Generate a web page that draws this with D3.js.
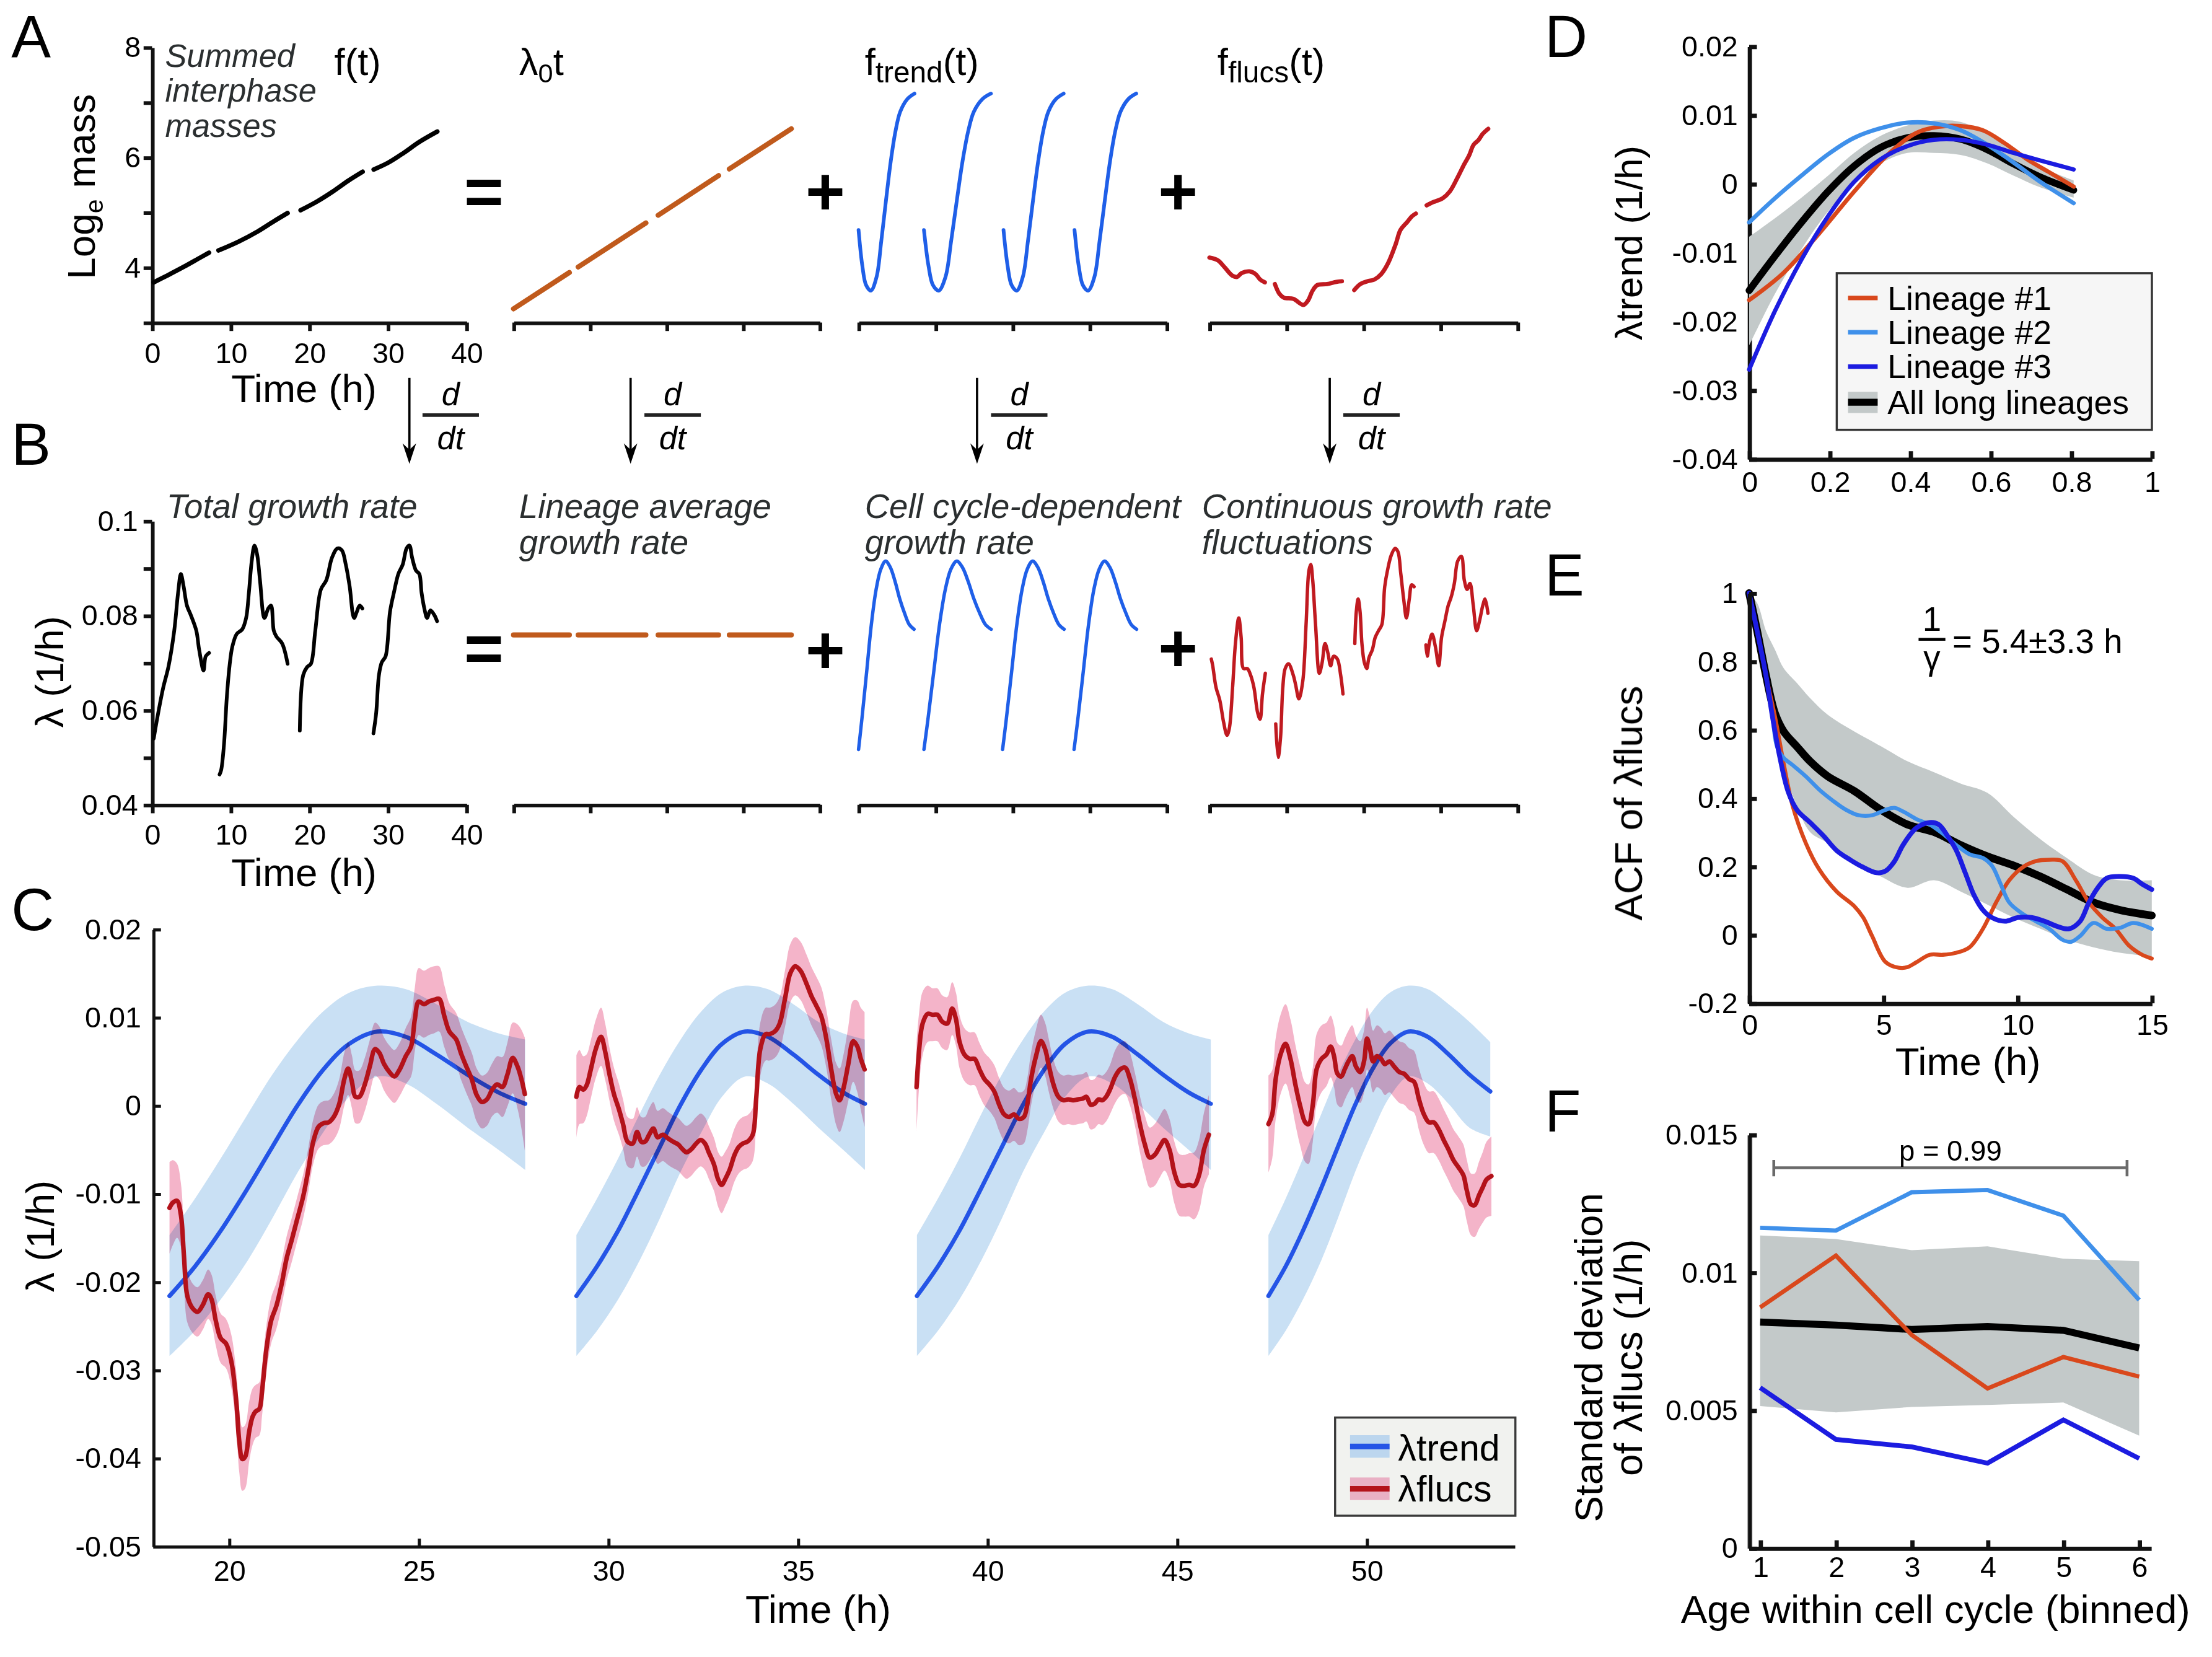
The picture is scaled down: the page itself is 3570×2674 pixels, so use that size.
<!DOCTYPE html>
<html>
<head>
<meta charset="utf-8">
<script src="https://cdn.jsdelivr.net/npm/d3@7"></script>
<style>
  body { margin: 0; background: #fff; }
  svg { display: block; }
</style>
</head>
<body>
<svg id="fig" width="3570" height="2674" viewBox="0 0 1568 1174"></svg>
<script>
// ---------------- data: panels A / B ----------------
const abTicks = [0, 10, 20, 30, 40];
const massTicks = [3, 4, 5, 6, 7, 8];
const massTickLabels = ['', '4', '', '6', '', '8'];
const rateTicks = [0.04, 0.05, 0.06, 0.07, 0.08, 0.09, 0.1];
const rateTickLabels = ['0.04', '', '0.06', '', '0.08', '', '0.1'];

const massSegs = [
  [[0.2,3.73],[2,3.86],[4,4.01],[6,4.17],[7.25,4.27]],
  [[8.45,4.31],[11,4.47],[13.5,4.66],[15.5,4.84],[17.25,4.99]],
  [[18.9,5.04],[21,5.2],[23,5.38],[25,5.58],[26.8,5.74]],
  [[28.2,5.78],[30,5.9],[32,6.08],[34,6.28],[36.3,6.47]]
];
const lambda0A = [
  [[0,3.25],[7.3,3.91]], [[8.45,4.01],[17.3,4.81]],
  [[18.9,4.95],[26.8,5.67]], [[28.2,5.79],[36.3,6.52]]
];
const trendA = [
  [[0,4.68],[0.49,4.03],[0.98,3.68],[1.60,3.58],[2.34,3.83],[2.95,4.48],[3.57,5.23],[4.18,5.93],[4.80,6.48],[5.41,6.83],[6.33,7.06],[7.26,7.16]],
  [[8.49,4.68],[9.08,4.03],[9.66,3.68],[10.40,3.58],[11.29,3.83],[12.02,4.48],[12.77,5.23],[13.50,5.93],[14.24,6.48],[14.97,6.83],[16.08,7.06],[17.19,7.16]],
  [[18.82,4.68],[19.35,4.03],[19.87,3.68],[20.54,3.58],[21.33,3.83],[21.99,4.48],[22.66,5.23],[23.32,5.93],[23.98,6.48],[24.64,6.83],[25.63,7.06],[26.63,7.16]],
  [[28.04,4.68],[28.58,4.03],[29.12,3.68],[29.80,3.58],[30.62,3.83],[31.29,4.48],[31.98,5.23],[32.65,5.93],[33.33,6.48],[34.01,6.83],[35.02,7.06],[36.05,7.16]]
];
const flucsA = [
  [[0,4.18],[1.1,4.13],[2.0,4.00],[3.0,3.85],[3.6,3.83],[4.2,3.90],[5.2,3.93],[6.0,3.88],[6.6,3.78],[7.2,3.73]],
  [[8.5,3.70],[9.1,3.52],[9.7,3.45],[10.9,3.43],[12.2,3.32],[12.8,3.40],[13.4,3.58],[14.0,3.68],[15.3,3.70],[16.5,3.74],[17.2,3.75]],
  [[18.8,3.59],[19.6,3.70],[20.5,3.75],[21.4,3.78],[22.3,3.88],[23.2,4.08],[24.2,4.43],[24.8,4.68],[25.7,4.83],[26.3,4.93],[26.8,4.98]],
  [[28.2,5.13],[29.1,5.19],[30.3,5.26],[31.2,5.38],[32.2,5.63],[33.1,5.88],[33.7,6.03],[34.3,6.23],[34.9,6.31],[35.5,6.43],[36.2,6.52]]
];
const totalB = [
  [[0.21,0.0540],[0.70,0.0587],[1.41,0.0647],[2.11,0.0694],[2.82,0.0768],[3.31,0.0848],[3.66,0.0888],[4.01,0.0862],[4.44,0.0821],[4.93,0.0801],[5.63,0.0768],[5.99,0.0728],[6.55,0.0684],[6.83,0.0714],[7.25,0.0721]],
  [[8.59,0.0464],[8.80,0.0474],[9.15,0.0527],[9.51,0.0627],[9.86,0.0694],[10.21,0.0734],[10.77,0.0761],[11.48,0.0771],[11.97,0.0795],[12.32,0.0848],[12.68,0.0915],[13.03,0.0948],[13.38,0.0928],[13.73,0.0875],[14.30,0.0795],[14.79,0.0815],[15.14,0.0821],[15.49,0.0768],[15.85,0.0755],[16.55,0.0741],[17.25,0.0698]],
  [[18.80,0.0557],[19.23,0.0674],[19.72,0.0691],[20.21,0.0698],[20.77,0.0768],[21.48,0.0855],[22.18,0.0875],[22.89,0.0922],[23.59,0.0942],[24.15,0.0938],[24.65,0.0908],[25.14,0.0862],[25.70,0.0795],[26.06,0.0808],[26.41,0.0821],[26.76,0.0815]],
  [[28.17,0.0551],[28.52,0.0594],[28.87,0.0674],[29.23,0.0701],[29.72,0.0714],[30.28,0.0808],[30.77,0.0848],[31.34,0.0888],[31.90,0.0908],[32.39,0.0942],[32.75,0.0948],[33.10,0.0922],[33.59,0.0895],[34.01,0.0888],[34.30,0.0848],[34.65,0.0815],[35.00,0.0795],[35.42,0.0811],[35.92,0.0801],[36.27,0.0788]]
];
const lambda0B = [
  [[0,0.0759],[7.3,0.0759]], [[8.45,0.0759],[17.3,0.0759]],
  [[18.9,0.0759],[26.8,0.0759]], [[28.2,0.0759],[36.3,0.0759]]
];
const trendB = [
  [[0,0.0517],[0.43,0.0581],[1.05,0.0681],[1.66,0.0781],[2.28,0.0855],[2.89,0.0898],[3.51,0.0915],[4.12,0.0902],[4.74,0.0872],[5.35,0.0835],[5.97,0.0805],[6.58,0.0781],[7.20,0.0771]],
  [[8.49,0.0517],[9.01,0.0581],[9.76,0.0681],[10.51,0.0781],[11.26,0.0855],[11.99,0.0898],[12.75,0.0915],[13.48,0.0902],[14.23,0.0872],[14.98,0.0835],[15.73,0.0805],[16.47,0.0781],[17.22,0.0771]],
  [[18.70,0.0517],[19.18,0.0581],[19.87,0.0681],[20.55,0.0781],[21.23,0.0855],[21.90,0.0898],[22.60,0.0915],[23.27,0.0902],[23.96,0.0872],[24.64,0.0835],[25.32,0.0805],[26.00,0.0781],[26.69,0.0771]],
  [[27.98,0.0517],[28.47,0.0581],[29.17,0.0681],[29.86,0.0781],[30.55,0.0855],[31.24,0.0898],[31.94,0.0915],[32.62,0.0902],[33.32,0.0872],[34.01,0.0835],[34.71,0.0805],[35.40,0.0781],[36.10,0.0771]]
];
const flucsB = [
  [[0.25,0.0708],[0.43,0.0694],[0.86,0.0648],[1.35,0.0621],[1.85,0.0574],[2.28,0.0547],[2.58,0.0561],[3.01,0.0648],[3.38,0.0741],[3.81,0.0795],[4.12,0.0754],[4.43,0.0688],[4.92,0.0688],[5.35,0.0674],[5.78,0.0648],[6.27,0.0594],[6.58,0.0581],[6.89,0.0634],[7.26,0.0678]],
  [[8.61,0.0571],[8.92,0.0500],[9.23,0.0541],[9.53,0.0648],[9.84,0.0688],[10.27,0.0698],[10.89,0.0674],[11.19,0.0654],[11.62,0.0624],[12.12,0.0661],[12.55,0.0781],[12.92,0.0895],[13.16,0.0908],[13.41,0.0875],[13.78,0.0781],[14.27,0.0678],[14.64,0.0701],[15.01,0.0741],[15.38,0.0721],[15.74,0.0694],[16.11,0.0714],[16.61,0.0708],[17.04,0.0674],[17.34,0.0634]],
  [[18.88,0.0741],[19.07,0.0808],[19.31,0.0835],[19.56,0.0808],[19.80,0.0741],[20.11,0.0701],[20.42,0.0688],[20.72,0.0711],[21.16,0.0728],[21.53,0.0754],[21.96,0.0768],[22.39,0.0781],[22.76,0.0861],[23.19,0.0901],[23.62,0.0928],[24.11,0.0942],[24.48,0.0935],[24.85,0.0888],[25.22,0.0835],[25.58,0.0795],[25.95,0.0835],[26.26,0.0865],[26.57,0.0861]],
  [[28.11,0.0738],[28.29,0.0714],[28.54,0.0741],[28.91,0.0761],[29.34,0.0734],[29.77,0.0694],[30.14,0.0754],[30.57,0.0788],[31.00,0.0821],[31.37,0.0838],[31.80,0.0868],[32.23,0.0915],[32.72,0.0925],[33.09,0.0875],[33.46,0.0855],[33.83,0.0868],[34.26,0.0821],[34.69,0.0768],[35.06,0.0788],[35.49,0.0821],[35.79,0.0835],[36.16,0.0805]]
];

// ---------------- data: panel C ----------------
const cTicksX = [20, 25, 30, 35, 40, 45, 50];
const cTicksY = [-0.05, -0.04, -0.03, -0.02, -0.01, 0, 0.01, 0.02];
const cTickLabelsY = ['-0.05', '-0.04', '-0.03', '-0.02', '-0.01', '0', '0.01', '0.02'];
// rows: [time, trend, lower, upper]
const trendC1 = [[18.43,-0.0216,-0.0284,-0.0147],[19.11,-0.0182,-0.0255,-0.0105],[19.78,-0.0142,-0.0220,-0.0060],[20.46,-0.0096,-0.0178,-0.0012],[21.14,-0.0047,-0.0128,0.0035],[21.82,0.0001,-0.0075,0.0075],[22.49,0.0041,-0.0030,0.0107],[23.17,0.0070,0.0010,0.0128],[23.92,0.0084,0.0033,0.0136],[24.66,0.0078,0.0025,0.0132],[25.47,0.0058,0.0002,0.0115],[26.29,0.0035,-0.0025,0.0095],[27.10,0.0015,-0.0050,0.0082],[27.81,0.0002,-0.0073,0.0075]];
const trendC2 = [[29.16,-0.0216,-0.0284,-0.0147],[29.71,-0.0182,-0.0255,-0.0105],[30.26,-0.0142,-0.0220,-0.0060],[30.80,-0.0096,-0.0178,-0.0012],[31.36,-0.0047,-0.0128,0.0035],[31.91,0.0001,-0.0075,0.0075],[32.46,0.0041,-0.0030,0.0107],[33.00,0.0070,0.0010,0.0128],[33.61,0.0084,0.0033,0.0136],[34.21,0.0078,0.0025,0.0132],[34.88,0.0058,0.0002,0.0115],[35.54,0.0035,-0.0025,0.0095],[36.19,0.0015,-0.0050,0.0082],[36.77,0.0002,-0.0073,0.0075]];
const trendC3 = [[38.14,-0.0216,-0.0284,-0.0147],[38.70,-0.0182,-0.0255,-0.0105],[39.26,-0.0142,-0.0220,-0.0060],[39.81,-0.0096,-0.0178,-0.0012],[40.38,-0.0047,-0.0128,0.0035],[40.94,0.0001,-0.0075,0.0075],[41.50,0.0041,-0.0030,0.0107],[42.05,0.0070,0.0010,0.0128],[42.67,0.0084,0.0033,0.0136],[43.29,0.0078,0.0025,0.0132],[43.96,0.0058,0.0002,0.0115],[44.63,0.0035,-0.0025,0.0095],[45.30,0.0015,-0.0050,0.0082],[45.89,0.0002,-0.0073,0.0075]];
const trendC4 = [[47.41,-0.0216,-0.0284,-0.0147],[47.87,-0.0182,-0.0255,-0.0105],[48.32,-0.0142,-0.0220,-0.0060],[48.78,-0.0096,-0.0178,-0.0012],[49.24,-0.0047,-0.0128,0.0035],[49.70,0.0001,-0.0075,0.0075],[50.15,0.0041,-0.0030,0.0107],[50.61,0.0070,0.0010,0.0128],[51.11,0.0084,0.0033,0.0136],[51.61,0.0078,0.0025,0.0132],[52.16,0.0058,0.0002,0.0115],[52.71,0.0035,-0.0025,0.0095],[53.26,0.0016,-0.0035,0.0072]];
// rows: [time, flucs, half width of band]
const flucsC1 = [[18.43,-0.0116,0.0052],[18.52,-0.0110,0.0048],[18.63,-0.0108,0.0042],[18.73,-0.0124,0.0036],[18.81,-0.0170,0.0032],[18.90,-0.0216,0.0030],[19.04,-0.0230,0.0028],[19.17,-0.0234,0.0028],[19.31,-0.0226,0.0028],[19.45,-0.0214,0.0028],[19.54,-0.0220,0.0028],[19.65,-0.0244,0.0028],[19.78,-0.0264,0.0028],[19.92,-0.0270,0.0028],[20.06,-0.0290,0.0030],[20.19,-0.0335,0.0033],[20.27,-0.0381,0.0035],[20.35,-0.0401,0.0036],[20.43,-0.0398,0.0036],[20.53,-0.0370,0.0034],[20.62,-0.0353,0.0032],[20.70,-0.0347,0.0030],[20.80,-0.0344,0.0030],[20.87,-0.0324,0.0028],[20.98,-0.0278,0.0027],[21.11,-0.0244,0.0026],[21.25,-0.0227,0.0026],[21.38,-0.0204,0.0025],[21.52,-0.0173,0.0025],[21.65,-0.0153,0.0025],[21.79,-0.0130,0.0025],[21.95,-0.0104,0.0025],[22.09,-0.0073,0.0025],[22.22,-0.0041,0.0025],[22.36,-0.0024,0.0025],[22.49,-0.0020,0.0025],[22.63,-0.0019,0.0025],[22.76,-0.0013,0.0026],[22.90,0.0001,0.0028],[23.04,0.0030,0.0030],[23.14,0.0042,0.0030],[23.24,0.0027,0.0030],[23.33,0.0010,0.0030],[23.44,0.0010,0.0030],[23.58,0.0024,0.0030],[23.71,0.0044,0.0030],[23.85,0.0064,0.0030],[23.96,0.0060,0.0030],[24.09,0.0047,0.0030],[24.23,0.0038,0.0030],[24.36,0.0033,0.0030],[24.50,0.0041,0.0030],[24.66,0.0056,0.0032],[24.80,0.0067,0.0034],[24.90,0.0098,0.0036],[25.00,0.0118,0.0038],[25.14,0.0115,0.0038],[25.27,0.0118,0.0038],[25.41,0.0120,0.0038],[25.54,0.0121,0.0037],[25.68,0.0101,0.0035],[25.81,0.0084,0.0032],[25.99,0.0075,0.0030],[26.12,0.0059,0.0030],[26.26,0.0044,0.0030],[26.40,0.0030,0.0030],[26.53,0.0012,0.0030],[26.67,0.0004,0.0030],[26.80,0.0007,0.0030],[26.94,0.0018,0.0030],[27.07,0.0024,0.0032],[27.21,0.0021,0.0034],[27.34,0.0035,0.0036],[27.48,0.0054,0.0040],[27.61,0.0044,0.0048],[27.71,0.0030,0.0056],[27.80,0.0013,0.0064]];
const flucsC2 = [[29.16,0.0010,0.0047],[29.24,0.0021,0.0042],[29.34,0.0018,0.0038],[29.43,0.0023,0.0035],[29.54,0.0041,0.0033],[29.67,0.0064,0.0033],[29.81,0.0078,0.0033],[29.92,0.0061,0.0032],[30.03,0.0036,0.0030],[30.15,0.0013,0.0030],[30.28,-0.0004,0.0029],[30.39,-0.0021,0.0028],[30.51,-0.0041,0.0028],[30.65,-0.0043,0.0028],[30.76,-0.0030,0.0028],[30.87,-0.0041,0.0028],[30.97,-0.0041,0.0028],[31.08,-0.0033,0.0030],[31.19,-0.0026,0.0030],[31.30,-0.0036,0.0030],[31.44,-0.0033,0.0030],[31.57,-0.0037,0.0030],[31.71,-0.0041,0.0030],[31.84,-0.0044,0.0030],[31.95,-0.0049,0.0030],[32.06,-0.0053,0.0030],[32.18,-0.0050,0.0030],[32.32,-0.0043,0.0030],[32.44,-0.0039,0.0030],[32.55,-0.0043,0.0030],[32.65,-0.0053,0.0030],[32.79,-0.0067,0.0030],[32.90,-0.0084,0.0031],[32.99,-0.0090,0.0032],[33.09,-0.0083,0.0031],[33.20,-0.0073,0.0030],[33.33,-0.0056,0.0030],[33.44,-0.0047,0.0030],[33.55,-0.0043,0.0030],[33.67,-0.0041,0.0030],[33.81,-0.0033,0.0030],[33.90,0.0007,0.0030],[34.01,0.0064,0.0030],[34.15,0.0081,0.0030],[34.25,0.0081,0.0030],[34.39,0.0084,0.0030],[34.52,0.0093,0.0030],[34.66,0.0121,0.0032],[34.80,0.0150,0.0033],[34.93,0.0158,0.0033],[35.07,0.0153,0.0033],[35.23,0.0138,0.0033],[35.36,0.0124,0.0033],[35.49,0.0113,0.0033],[35.62,0.0101,0.0033],[35.75,0.0076,0.0033],[35.88,0.0041,0.0034],[36.01,0.0013,0.0035],[36.10,0.0006,0.0036],[36.20,0.0019,0.0038],[36.33,0.0047,0.0042],[36.46,0.0073,0.0046],[36.57,0.0067,0.0052],[36.66,0.0053,0.0058],[36.76,0.0041,0.0065]];
const flucsC3 = [[38.13,0.0021,0.0050],[38.20,0.0064,0.0042],[38.29,0.0093,0.0036],[38.42,0.0104,0.0032],[38.55,0.0103,0.0030],[38.68,0.0103,0.0030],[38.81,0.0095,0.0030],[38.94,0.0093,0.0030],[39.07,0.0110,0.0030],[39.17,0.0098,0.0030],[39.26,0.0073,0.0030],[39.39,0.0058,0.0030],[39.53,0.0053,0.0030],[39.66,0.0053,0.0030],[39.79,0.0041,0.0030],[39.92,0.0030,0.0030],[40.05,0.0024,0.0030],[40.18,0.0016,0.0030],[40.31,0.0001,0.0030],[40.44,-0.0010,0.0030],[40.57,-0.0013,0.0030],[40.70,-0.0010,0.0030],[40.83,-0.0015,0.0030],[40.96,-0.0013,0.0030],[41.05,0.0001,0.0030],[41.15,0.0030,0.0030],[41.28,0.0056,0.0030],[41.41,0.0073,0.0030],[41.52,0.0064,0.0030],[41.61,0.0047,0.0030],[41.74,0.0024,0.0028],[41.87,0.0010,0.0028],[42.00,0.0006,0.0028],[42.13,0.0007,0.0028],[42.26,0.0006,0.0028],[42.39,0.0007,0.0028],[42.52,0.0008,0.0028],[42.61,0.0010,0.0028],[42.72,0.0001,0.0028],[42.82,0.0002,0.0028],[42.93,0.0007,0.0028],[43.03,0.0006,0.0028],[43.13,0.0010,0.0028],[43.24,0.0019,0.0028],[43.37,0.0033,0.0030],[43.50,0.0041,0.0030],[43.63,0.0043,0.0030],[43.76,0.0030,0.0030],[43.89,0.0007,0.0030],[44.02,-0.0021,0.0032],[44.15,-0.0044,0.0033],[44.28,-0.0059,0.0034],[44.41,-0.0056,0.0035],[44.54,-0.0047,0.0035],[44.67,-0.0039,0.0035],[44.80,-0.0050,0.0035],[44.93,-0.0076,0.0035],[45.06,-0.0090,0.0035],[45.19,-0.0091,0.0035],[45.32,-0.0090,0.0036],[45.45,-0.0091,0.0038],[45.58,-0.0079,0.0040],[45.71,-0.0050,0.0042],[45.84,-0.0033,0.0045]];
const flucsC4 = [[47.41,-0.0021,0.0055],[47.51,-0.0010,0.0050],[47.60,0.0030,0.0046],[47.73,0.0058,0.0045],[47.86,0.0070,0.0045],[47.99,0.0053,0.0045],[48.12,0.0024,0.0045],[48.25,-0.0001,0.0045],[48.38,-0.0019,0.0045],[48.47,-0.0021,0.0045],[48.58,0.0001,0.0042],[48.68,0.0041,0.0040],[48.81,0.0053,0.0038],[48.94,0.0058,0.0036],[49.05,0.0067,0.0035],[49.14,0.0056,0.0035],[49.23,0.0036,0.0035],[49.33,0.0033,0.0035],[49.42,0.0041,0.0035],[49.52,0.0050,0.0035],[49.62,0.0056,0.0035],[49.72,0.0044,0.0035],[49.83,0.0038,0.0035],[49.93,0.0050,0.0035],[50.01,0.0076,0.0035],[50.09,0.0064,0.0035],[50.17,0.0050,0.0035],[50.27,0.0056,0.0035],[50.38,0.0053,0.0035],[50.48,0.0047,0.0035],[50.60,0.0050,0.0035],[50.73,0.0044,0.0035],[50.86,0.0038,0.0035],[50.99,0.0036,0.0035],[51.12,0.0030,0.0035],[51.25,0.0027,0.0035],[51.38,0.0007,0.0035],[51.51,-0.0010,0.0035],[51.64,-0.0019,0.0035],[51.77,-0.0019,0.0035],[51.90,-0.0027,0.0035],[52.03,-0.0039,0.0035],[52.16,-0.0050,0.0035],[52.29,-0.0062,0.0035],[52.42,-0.0070,0.0035],[52.55,-0.0079,0.0035],[52.64,-0.0096,0.0035],[52.75,-0.0112,0.0035],[52.85,-0.0113,0.0036],[52.96,-0.0102,0.0038],[53.06,-0.0093,0.0040],[53.16,-0.0084,0.0043],[53.29,-0.0080,0.0045]];

// ---------------- data: panel D ----------------
const dTicksX = [0, 0.2, 0.4, 0.6, 0.8, 1];
const dTickLabelsX = ['0', '0.2', '0.4', '0.6', '0.8', '1'];
const dTicksY = [-0.04, -0.03, -0.02, -0.01, 0, 0.01, 0.02];
const dTickLabelsY = ['-0.04', '-0.03', '-0.02', '-0.01', '0', '0.01', '0.02'];
const lineageNames = ['Lineage #1', 'Lineage #2', 'Lineage #3', 'All long lineages'];
const lin1D = [[0,-0.0169],[0.086,-0.0129],[0.174,-0.0072],[0.261,-0.0011],[0.349,0.0045],[0.415,0.0074],[0.470,0.0083],[0.525,0.0084],[0.580,0.0078],[0.635,0.0059],[0.690,0.0036],[0.745,0.0017],[0.806,-0.0004]];
const lin2D = [[0,-0.0056],[0.064,-0.0021],[0.130,0.0012],[0.196,0.0043],[0.261,0.0067],[0.327,0.0081],[0.393,0.0089],[0.459,0.0088],[0.525,0.0078],[0.591,0.0057],[0.657,0.0031],[0.723,0.0003],[0.806,-0.0028]];
const lin3D = [[0,-0.0270],[0.064,-0.0185],[0.130,-0.0110],[0.196,-0.0047],[0.261,0.0003],[0.327,0.0036],[0.393,0.0055],[0.459,0.0064],[0.525,0.0064],[0.591,0.0057],[0.657,0.0045],[0.723,0.0034],[0.806,0.0021]];
const allD = [[0,-0.0155],[0.064,-0.0105],[0.130,-0.0056],[0.196,-0.0011],[0.261,0.0026],[0.327,0.0053],[0.393,0.0067],[0.459,0.0070],[0.525,0.0065],[0.591,0.0050],[0.657,0.0029],[0.723,0.0010],[0.806,-0.0009]];
const bandD = [[0,-0.0235,-0.0077],[0.064,-0.0160,-0.0050],[0.130,-0.0095,-0.0020],[0.196,-0.0040,0.0012],[0.261,0.0000,0.0045],[0.327,0.0030,0.0070],[0.393,0.0045,0.0085],[0.459,0.0045,0.0092],[0.525,0.0042,0.0090],[0.591,0.0030,0.0072],[0.657,0.0012,0.0048],[0.723,-0.0005,0.0025],[0.806,-0.0020,0.0005]];

// ---------------- data: panel E ----------------
const eTicksX = [0, 5, 10, 15];
const eTicksY = [-0.2, 0, 0.2, 0.4, 0.6, 0.8, 1];
const eTickLabelsY = ['-0.2', '0', '0.2', '0.4', '0.6', '0.8', '1'];
const allE = [[0,1.0],[0.30,0.889],[0.63,0.758],[0.96,0.649],[1.29,0.595],[1.78,0.551],[2.27,0.508],[2.93,0.464],[3.92,0.421],[4.91,0.366],[5.90,0.323],[6.89,0.301],[7.88,0.263],[8.87,0.230],[9.86,0.203],[10.85,0.171],[11.84,0.133],[12.83,0.095],[13.82,0.073],[15.0,0.057]];
const bandE = [[0,1.0,1.0],[0.30,0.932,0.971],[0.63,0.780,0.889],[0.96,0.639,0.835],[1.29,0.486,0.780],[1.78,0.378,0.737],[2.27,0.301,0.693],[2.93,0.269,0.644],[3.92,0.214,0.595],[4.91,0.171,0.552],[5.90,0.138,0.508],[6.89,0.160,0.476],[7.88,0.127,0.443],[8.87,0.089,0.416],[9.86,0.051,0.345],[10.85,0.018,0.280],[11.84,-0.014,0.225],[12.83,-0.036,0.176],[13.82,-0.052,0.160],[15.0,-0.063,0.160]];
const lin1E = [[0,1.0],[0.30,0.889],[0.63,0.758],[0.96,0.64],[1.29,0.50],[1.62,0.378],[2.11,0.269],[2.60,0.193],[3.26,0.127],[3.92,0.084],[4.25,0.051],[4.58,-0.003],[5.08,-0.079],[5.57,-0.096],[5.90,-0.094],[6.23,-0.080],[6.73,-0.058],[7.22,-0.058],[7.72,-0.052],[8.21,-0.036],[8.71,0.018],[9.20,0.095],[9.69,0.160],[10.19,0.198],[10.68,0.216],[11.18,0.220],[11.67,0.216],[12.17,0.160],[12.66,0.095],[13.16,0.051],[13.65,0.018],[14.15,-0.031],[14.64,-0.058],[15.0,-0.069]];
const lin2E = [[0,1.0],[0.30,0.889],[0.63,0.758],[0.87,0.638],[1.04,0.551],[1.29,0.518],[1.62,0.497],[2.11,0.464],[2.60,0.426],[3.10,0.394],[3.59,0.367],[4.09,0.350],[4.58,0.350],[5.08,0.366],[5.41,0.372],[5.74,0.361],[6.23,0.339],[6.73,0.323],[7.22,0.296],[7.72,0.263],[8.21,0.236],[8.71,0.225],[9.04,0.203],[9.37,0.149],[9.69,0.095],[10.19,0.062],[10.68,0.040],[11.18,0.018],[11.67,-0.014],[12.00,-0.020],[12.33,-0.003],[12.83,0.035],[13.32,0.018],[13.82,0.021],[14.31,0.035],[15.0,0.018]];
const lin3E = [[0,1.0],[0.30,0.889],[0.63,0.758],[0.87,0.638],[1.12,0.529],[1.45,0.420],[1.78,0.366],[2.27,0.329],[2.77,0.290],[3.26,0.247],[3.76,0.220],[4.25,0.198],[4.75,0.182],[5.08,0.187],[5.41,0.215],[5.74,0.264],[6.23,0.313],[6.73,0.329],[7.06,0.323],[7.39,0.290],[7.72,0.247],[8.05,0.182],[8.38,0.116],[8.71,0.073],[9.04,0.051],[9.53,0.040],[10.02,0.051],[10.52,0.051],[11.01,0.040],[11.51,0.024],[11.92,0.018],[12.33,0.040],[12.66,0.095],[12.99,0.138],[13.32,0.166],[13.82,0.171],[14.31,0.166],[14.64,0.149],[15.0,0.133]];

// ---------------- data: panel F ----------------
const fBins = [1, 2, 3, 4, 5, 6];
const fTicksY = [0, 0.005, 0.01, 0.015];
const fTickLabelsY = ['0', '0.005', '0.01', '0.015'];
const lin1F = [0.00873, 0.01061, 0.00773, 0.00579, 0.00693, 0.00622];
const lin2F = [0.01162, 0.01152, 0.01291, 0.01299, 0.01206, 0.00900];
const lin3F = [0.00582, 0.00394, 0.00367, 0.00308, 0.00465, 0.00325];
const allF = [0.00820, 0.00809, 0.00793, 0.00804, 0.00790, 0.00726];
const bandFLow = [0.00515, 0.00492, 0.00512, 0.00519, 0.00528, 0.00408];
const bandFHigh = [0.01134, 0.01121, 0.01081, 0.01095, 0.01050, 0.01041];
const pBracket = [1.18, 5.84];

// ---------------- drawing ----------------
const FONT = "'Liberation Sans', Arial, Helvetica, sans-serif";
const svg = d3.select('#fig').attr('font-family', FONT);
const INK = '#111';
const C_ORANGE_AB = '#c05a1c', C_BLUE_AB = '#1f5fe8', C_RED_AB = '#c01a20';
const C_L1 = '#d9481c', C_L2 = '#3f90ea', C_L3 = '#1c1ce0', C_GRAY = '#c3c9c9';

function txt(x, y, s, size, o = {}) {
  const t = svg.append('text').attr('x', x).attr('y', y).attr('font-size', size).text(s);
  if (o.anchor) t.attr('text-anchor', o.anchor);
  if (o.italic) t.attr('font-style', 'italic');
  if (o.weight) t.attr('font-weight', o.weight);
  t.attr('fill', o.fill || '#000');
  if (o.rotate) t.attr('transform', `rotate(-90,${x},${y})`);
  return t;
}
function styleAxis(g, lw, fs) {
  g.attr('font-family', FONT).attr('font-size', fs);
  g.select('.domain').attr('stroke', INK).attr('stroke-width', lw);
  g.selectAll('.tick line').attr('stroke', INK).attr('stroke-width', lw);
  g.selectAll('.tick text').attr('fill', '#000');
  return g;
}
function drawLines(segs, x, y, color, width, curve) {
  const ln = d3.line().x(d => x(d[0])).y(d => y(d[1])).curve(curve || d3.curveCatmullRom);
  svg.append('g').selectAll('path').data(segs).enter().append('path')
    .attr('d', ln).attr('fill', 'none').attr('stroke', color).attr('stroke-width', width)
    .attr('stroke-linecap', 'round').attr('stroke-linejoin', 'round');
}

// panel letters
[['A', 8, 40], ['B', 8, 329], ['C', 8, 659], ['D', 1095, 40], ['E', 1095, 422], ['F', 1095, 802]]
  .forEach(d => txt(d[1], d[2], d[0], 42));

// ---- A and B subpanel scales ----
const subRanges = [[107.8, 330.6], [364, 581], [608.6, 827], [857.3, 1075.7]];
const xAB = subRanges.map(r => d3.scaleLinear().domain([0, 40]).range(r));
const yA = d3.scaleLinear().domain([3, 8]).range([228.4, 33.3]);
const yB = d3.scaleLinear().domain([0.04, 0.1]).range([570.2, 369]);

// x axes
xAB.forEach((x, i) => {
  styleAxis(svg.append('g').attr('transform', 'translate(0,228.4)')
    .call(d3.axisBottom(x).tickValues(abTicks).tickSize(6).tickSizeOuter(0).tickPadding(8)
      .tickFormat(d => i === 0 ? d : '')), 2.6, 20.5);
  styleAxis(svg.append('g').attr('transform', 'translate(0,570.2)')
    .call(d3.axisBottom(x).tickValues(abTicks).tickSize(6).tickSizeOuter(0).tickPadding(7.5)
      .tickFormat(d => i === 0 ? d : '')), 2.6, 20.5);
});
styleAxis(svg.append('g').attr('transform', 'translate(107.8,0)')
  .call(d3.axisLeft(yA).tickValues(massTicks).tickSize(6).tickSizeOuter(0).tickPadding(2)
    .tickFormat((d, i) => massTickLabels[i])), 2.6, 20.5);
styleAxis(svg.append('g').attr('transform', 'translate(107.8,0)')
  .call(d3.axisLeft(yB).tickValues(rateTicks).tickSize(6).tickSizeOuter(0).tickPadding(4)
    .tickFormat((d, i) => rateTickLabels[i])), 2.6, 20.5);

// A lines
drawLines(massSegs, xAB[0], yA, '#000', 3.2);
drawLines(lambda0A, xAB[1], yA, C_ORANGE_AB, 3.6, d3.curveLinear);
drawLines(trendA, xAB[2], yA, C_BLUE_AB, 2.6);
drawLines(flucsA, xAB[3], yA, C_RED_AB, 3.0);
// B lines
drawLines(totalB, xAB[0], yB, '#000', 2.6);
drawLines(lambda0B, xAB[1], yB, C_ORANGE_AB, 3.6, d3.curveLinear);
drawLines(trendB, xAB[2], yB, C_BLUE_AB, 2.4);
drawLines(flucsB, xAB[3], yB, C_RED_AB, 2.4);

// A/B titles and annotations
txt(237, 53, 'f(t)', 27);
const tL = txt(368, 53, 'λ', 27); tL.append('tspan').attr('font-size', 19).attr('dy', 5).text('0'); tL.append('tspan').attr('dy', -5).text('t');
const tT = txt(613, 53, 'f', 27); tT.append('tspan').attr('font-size', 21).attr('dy', 5).text('trend'); tT.append('tspan').attr('dy', -5).text('(t)');
const tF = txt(863, 53, 'f', 27); tF.append('tspan').attr('font-size', 21).attr('dy', 5).text('flucs'); tF.append('tspan').attr('dy', -5).text('(t)');
['Summed', 'interphase', 'masses'].forEach((s, i) => txt(117, 47 + 25 * i, s, 23, {italic: true, fill: '#2b2f30'}));
txt(118, 367, 'Total growth rate', 24, {italic: true, fill: '#2b2f30'});
txt(368, 367, 'Lineage average', 24, {italic: true, fill: '#2b2f30'});
txt(368, 392.6, 'growth rate', 24, {italic: true, fill: '#2b2f30'});
txt(613, 367, 'Cell cycle-dependent', 24, {italic: true, fill: '#2b2f30'});
txt(613, 392.6, 'growth rate', 24, {italic: true, fill: '#2b2f30'});
txt(852, 367, 'Continuous growth rate', 24, {italic: true, fill: '#2b2f30'});
txt(852, 392.6, 'fluctuations', 24, {italic: true, fill: '#2b2f30'});
[[343, 152, '='], [585, 152, '+'], [835, 152, '+'], [343, 476, '='], [585, 477, '+'], [835, 476, '+']]
  .forEach(d => txt(d[0], d[1], d[2], 48, {anchor: 'middle', weight: 'bold'}));
txt(215.5, 285, 'Time (h)', 28, {anchor: 'middle'});
txt(215.5, 628, 'Time (h)', 28, {anchor: 'middle'});
const yl = txt(67, 132, 'Log', 28, {anchor: 'middle', rotate: true});
yl.append('tspan').attr('font-size', 18).attr('dy', 6).text('e');
yl.append('tspan').attr('dy', -6).text(' mass');
txt(45, 476, 'λ (1/h)', 28, {anchor: 'middle', rotate: true});

// d/dt arrows
[[290.2, 319.5], [447, 476.8], [692.6, 722.5], [942.6, 972.2]].forEach(d => {
  const ax = d[0], fx = d[1];
  svg.append('line').attr('x1', ax).attr('x2', ax).attr('y1', 267.6).attr('y2', 322)
    .attr('stroke', '#000').attr('stroke-width', 1.6);
  svg.append('path').attr('d', `M${ax - 4.8},314 L${ax},318.5 L${ax + 4.8},314 L${ax},328.5 Z`).attr('fill', '#000');
  svg.append('line').attr('x1', fx - 20).attr('x2', fx + 20).attr('y1', 294).attr('y2', 294)
    .attr('stroke', '#222').attr('stroke-width', 2.6);
  txt(fx, 287, 'd', 23, {anchor: 'middle', italic: true});
  txt(fx, 318, 'dt', 23, {anchor: 'middle', italic: true});
});

// ---- panel C ----
const xC = d3.scaleLinear().domain([18, 53.9]).range([108.6, 1073.6]);
const yC = d3.scaleLinear().domain([-0.05, 0.02]).range([1095.8, 658.4]);
styleAxis(svg.append('g').attr('transform', 'translate(0,1095.8)')
  .call(d3.axisBottom(xC).tickValues(cTicksX).tickSizeInner(-5.5).tickSizeOuter(0).tickPadding(10)), 2.2, 20.5);
styleAxis(svg.append('g').attr('transform', 'translate(108.6,0)')
  .call(d3.axisLeft(yC).tickValues(cTicksY).tickSizeInner(-5.5).tickSizeOuter(0).tickPadding(8.5)
    .tickFormat((d, i) => cTickLabelsY[i])), 2.2, 20.5);
const trendsC = [trendC1, trendC2, trendC3, trendC4];
const flucsC = [flucsC1, flucsC2, flucsC3, flucsC4];
const bandBlue = d3.area().x(d => xC(d[0])).y0(d => yC(d[2])).y1(d => yC(d[3])).curve(d3.curveCatmullRom);
const bandPink = d3.area().x(d => xC(d[0])).y0(d => yC(d[1] - d[2])).y1(d => yC(d[1] + d[2])).curve(d3.curveCatmullRom);
svg.append('g').selectAll('path').data(trendsC).enter().append('path').attr('d', bandBlue).attr('fill', '#c9e0f4');
drawLines(trendsC, xC, yC, '#2454e6', 3);
svg.append('g').style('mix-blend-mode', 'multiply').selectAll('path').data(flucsC).enter().append('path')
  .attr('d', bandPink).attr('fill', '#f4b4c9');
drawLines(flucsC, xC, yC, '#b3121a', 3.2);
txt(580, 1150, 'Time (h)', 28, {anchor: 'middle'});
txt(38, 876, 'λ (1/h)', 28, {anchor: 'middle', rotate: true});
// legend C
svg.append('rect').attr('x', 946.4).attr('y', 1004.5).attr('width', 127.8).attr('height', 69.6)
  .attr('fill', '#f1f2ef').attr('stroke', '#3a3a3a').attr('stroke-width', 1.5);
svg.append('rect').attr('x', 957).attr('y', 1017).attr('width', 28).attr('height', 16).attr('fill', '#bcd6ee');
svg.append('line').attr('x1', 957).attr('x2', 985).attr('y1', 1025).attr('y2', 1025).attr('stroke', '#2454e6').attr('stroke-width', 4);
svg.append('rect').attr('x', 957).attr('y', 1047).attr('width', 28).attr('height', 16).attr('fill', '#e9b0c4');
svg.append('line').attr('x1', 957).attr('x2', 985).attr('y1', 1055).attr('y2', 1055).attr('stroke', '#b3121a').attr('stroke-width', 4);
txt(991, 1035, 'λtrend', 26);
txt(991, 1064, 'λflucs', 26);

// ---- panel D ----
const xD = d3.scaleLinear().domain([0, 1]).range([1239.9, 1525.3]);
const yD = d3.scaleLinear().domain([-0.04, 0.02]).range([325.1, 32.6]);
styleAxis(svg.append('g').attr('transform', 'translate(0,325.1)')
  .call(d3.axisBottom(xD).tickValues(dTicksX).tickSizeInner(-5.5).tickSizeOuter(0).tickPadding(9)
    .tickFormat((d, i) => dTickLabelsX[i])), 3, 20.5);
styleAxis(svg.append('g').attr('transform', 'translate(1239.9,0)')
  .call(d3.axisLeft(yD).tickValues(dTicksY).tickSizeInner(-5.5).tickSizeOuter(0).tickPadding(8)
    .tickFormat((d, i) => dTickLabelsY[i])), 3, 20.5);
svg.append('path').datum(bandD)
  .attr('d', d3.area().x(d => xD(d[0])).y0(d => yD(d[1])).y1(d => yD(d[2])).curve(d3.curveCatmullRom))
  .attr('fill', C_GRAY);
drawLines([allD], xD, yD, '#000', 5);
drawLines([lin1D], xD, yD, C_L1, 3);
drawLines([lin2D], xD, yD, C_L2, 3);
drawLines([lin3D], xD, yD, C_L3, 3);
txt(1164, 172, 'λtrend (1/h)', 27, {anchor: 'middle', rotate: true});
svg.append('rect').attr('x', 1302).attr('y', 193.4).attr('width', 223.4).attr('height', 111)
  .attr('fill', '#f6f6f6').attr('stroke', '#333').attr('stroke-width', 1.5);
const legY = [211, 235.2, 259.6, 284.9];
const legC = [C_L1, C_L2, C_L3, '#000'];
svg.append('rect').attr('x', 1310).attr('y', 277.5).attr('width', 21).attr('height', 15).attr('fill', C_GRAY);
legY.forEach((yy, i) => {
  svg.append('line').attr('x1', 1310).attr('x2', 1331).attr('y1', yy).attr('y2', yy)
    .attr('stroke', legC[i]).attr('stroke-width', i === 3 ? 5 : 3.2);
  txt(1338, yy + 8.3, lineageNames[i], 23.5);
});

// ---- panel E ----
const xE = d3.scaleLinear().domain([0, 15]).range([1239.9, 1525.3]);
const yE = d3.scaleLinear().domain([-0.2, 1]).range([710.9, 420.2]);
svg.append('path').datum(bandE)
  .attr('d', d3.area().x(d => xE(d[0])).y0(d => yE(d[1])).y1(d => yE(d[2])).curve(d3.curveCatmullRom))
  .attr('fill', C_GRAY);
drawLines([allE], xE, yE, '#000', 5.5);
drawLines([lin1E], xE, yE, C_L1, 2.8);
drawLines([lin2E], xE, yE, C_L2, 2.8);
drawLines([lin3E], xE, yE, C_L3, 3.4);
styleAxis(svg.append('g').attr('transform', 'translate(0,710.9)')
  .call(d3.axisBottom(xE).tickValues(eTicksX).tickSizeInner(-5.5).tickSizeOuter(0).tickPadding(8)), 3, 20.5);
styleAxis(svg.append('g').attr('transform', 'translate(1239.9,0)')
  .call(d3.axisLeft(yE).tickValues(eTicksY).tickSizeInner(-5.5).tickSizeOuter(0).tickPadding(8)
    .tickFormat((d, i) => eTickLabelsY[i])), 3, 20.5);
txt(1395, 762, 'Time (h)', 28, {anchor: 'middle'});
txt(1164, 569, 'ACF of λflucs', 28, {anchor: 'middle', rotate: true});
txt(1369.4, 447, '1', 24, {anchor: 'middle'});
svg.append('line').attr('x1', 1360).attr('x2', 1379).attr('y1', 452.9).attr('y2', 452.9).attr('stroke', '#000').attr('stroke-width', 2);
txt(1369.4, 474, 'γ', 24, {anchor: 'middle'});
txt(1384, 462.9, '= 5.4±3.3 h', 24);

// ---- panel F ----
const xF = d3.scaleLinear().domain([0.855, 6.155]).range([1239.9, 1524.7]);
const yF = d3.scaleLinear().domain([0, 0.015]).range([1097.0, 804.0]);
svg.append('path').datum(fBins)
  .attr('d', d3.area().x(d => xF(d)).y0((d, i) => yF(bandFLow[i])).y1((d, i) => yF(bandFHigh[i])))
  .attr('fill', C_GRAY);
const lineF = vals => d3.line().x(d => xF(d)).y((d, i) => yF(vals[i]))(fBins);
[[allF, '#000', 5], [lin1F, C_L1, 3], [lin2F, C_L2, 3], [lin3F, C_L3, 3.4]].forEach(d => {
  svg.append('path').attr('d', lineF(d[0])).attr('fill', 'none').attr('stroke', d[1]).attr('stroke-width', d[2]);
});
styleAxis(svg.append('g').attr('transform', 'translate(0,1097)')
  .call(d3.axisBottom(xF).tickValues(fBins).tickFormat(d3.format('d')).tickSizeInner(-5.5).tickSizeOuter(0).tickPadding(6)), 3, 20.5);
styleAxis(svg.append('g').attr('transform', 'translate(1239.9,0)')
  .call(d3.axisLeft(yF).tickValues(fTicksY).tickSizeInner(-5.5).tickSizeOuter(0).tickPadding(8)
    .tickFormat((d, i) => fTickLabelsY[i])), 3, 20.5);
const bx0 = xF(pBracket[0]), bx1 = xF(pBracket[1]);
svg.append('path').attr('d', `M${bx0},822 V833.5 M${bx0},827.5 H${bx1} M${bx1},822 V833.5`)
  .attr('fill', 'none').attr('stroke', '#6a6a6a').attr('stroke-width', 2);
txt((bx0 + bx1) / 2, 822.3, 'p = 0.99', 20, {anchor: 'middle'});
txt(1372, 1150, 'Age within cell cycle (binned)', 28, {anchor: 'middle'});
txt(1135.7, 962, 'Standard deviation', 28, {anchor: 'middle', rotate: true});
txt(1164, 962, 'of λflucs (1/h)', 28, {anchor: 'middle', rotate: true});
</script>
</body>
</html>
